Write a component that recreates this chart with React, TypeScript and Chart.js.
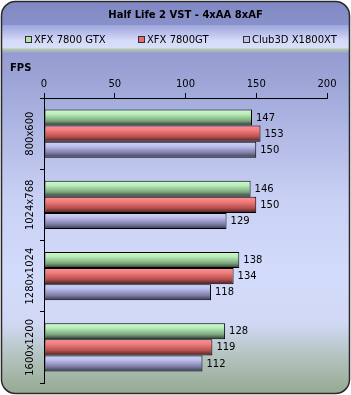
import React, { useEffect, useRef } from "react";
import { Chart, registerables } from "chart.js";

Chart.register(...registerables);

const categories = ["800x600", "1024x768", "1280x1024", "1600x1200"];
const seriesNames = ["XFX 7800 GTX", "XFX 7800GT", "Club3D X1800XT"];
const gtxValues = [147, 146, 138, 128];
const gtValues = [153, 150, 134, 119];
const x1800Values = [150, 129, 118, 112];
const xTicks = [0, 50, 100, 150, 200];
const chartTitle = "Half Life 2 VST - 4xAA 8xAF";
const axisTitle = "FPS";

const seriesGradients = [
  ["#d0fcd0", "#b8ecb8", "#7ca87c", "#2c382c"],
  ["#ff9494", "#f27c7c", "#b45050", "#4a1c1c"],
  ["#d4d4fc", "#bcbcec", "#7c7ca4", "#34344a"],
];
const legendFill = ["#b4e4ac", "#e46c6c", "#c4c4e4"];

const CAT_PCT = 0.68;
const FONT = "DejaVu Sans";

function barGradient(ctx: any) {
  const chart = ctx.chart;
  const ds = ctx.datasetIndex;
  const base = seriesGradients[ds] ? seriesGradients[ds][1] : "#ccc";
  if (ctx.type !== "data" || !chart.chartArea) return base;
  const ys = chart.scales.y;
  if (!ys) return base;
  const n = categories.length;
  const cat = (ys.bottom - ys.top) / n;
  const center = ys.getPixelForValue(ctx.dataIndex);
  const nb = chart.data.datasets.length;
  const bar = (cat * CAT_PCT) / nb;
  const top = center - (cat * CAT_PCT) / 2 + ds * bar;
  const g = chart.ctx.createLinearGradient(0, top, 0, top + bar);
  const s = seriesGradients[ds];
  g.addColorStop(0, s[0]);
  g.addColorStop(0.3, s[1]);
  g.addColorStop(0.7, s[2]);
  g.addColorStop(1, s[3]);
  return g;
}

const framePlugin = {
  id: "frame",
  beforeDraw(chart: any) {
    const c = chart.ctx;
    const W = chart.width;
    const H = chart.height;
    c.save();
    c.fillStyle = "#ffffff";
    c.fillRect(0, 0, W, H);
    const x0 = 1.5, y0 = 1.5, w = W - 3, h = H - 3, r = 14;
    c.beginPath();
    c.moveTo(x0 + r, y0);
    c.lineTo(x0 + w - r, y0);
    c.arcTo(x0 + w, y0, x0 + w, y0 + r, r);
    c.lineTo(x0 + w, y0 + h - r);
    c.arcTo(x0 + w, y0 + h, x0 + w - r, y0 + h, r);
    c.lineTo(x0 + r, y0 + h);
    c.arcTo(x0, y0 + h, x0, y0 + h - r, r);
    c.lineTo(x0, y0 + r);
    c.arcTo(x0, y0, x0 + r, y0, r);
    c.closePath();
    const bg = c.createLinearGradient(0, 0, 0, H);
    bg.addColorStop(0, "#8088c4");
    bg.addColorStop(0.25, "#a4acdc");
    bg.addColorStop(0.5, "#c8d0f4");
    bg.addColorStop(0.7, "#d4dcfc");
    bg.addColorStop(0.82, "#d0d8f4");
    bg.addColorStop(0.9, "#b4c4c0");
    bg.addColorStop(1, "#94a890");
    c.fillStyle = bg;
    c.fill();
    c.save();
    c.clip();
    // legend band
    const bandTop = 25, bandBot = 53;
    const lg = c.createLinearGradient(0, bandTop, 0, bandBot);
    lg.addColorStop(0, "#9ca4dc");
    lg.addColorStop(0.55, "#d4daf8");
    lg.addColorStop(0.8, "#d8e0f8");
    lg.addColorStop(0.88, "#b4c4a8");
    lg.addColorStop(1, "#98a0d4");
    c.fillStyle = lg;
    c.fillRect(0, bandTop, W, bandBot - bandTop);
    c.restore();
    c.lineWidth = 1.5;
    c.strokeStyle = "#2a2a2a";
    c.stroke();

    const area = chart.chartArea;
    c.fillStyle = "#000";
    c.textBaseline = "middle";
    c.textAlign = "center";
    c.font = `bold 10px "${FONT}"`;
    c.fillText(chartTitle, (area.left + area.right) / 2, 15);

    // legend
    const starts = [25, 138, 243];
    c.font = `10px "${FONT}"`;
    c.textAlign = "left";
    seriesNames.forEach((name, i) => {
      const bx = starts[i];
      c.fillStyle = legendFill[i];
      c.fillRect(bx + 0.5, 36.5, 6, 6);
      c.strokeStyle = "#303030";
      c.lineWidth = 1;
      c.strokeRect(bx + 0.5, 36.5, 6, 6);
      c.fillStyle = "#000";
      c.fillText(name, bx + 9, 40);
    });

    c.font = `bold 10px "${FONT}"`;
    c.fillText(axisTitle, 10, 68);
    c.restore();
  },
  afterDatasetsDraw(chart: any) {
    const c = chart.ctx;
    c.save();
    c.fillStyle = "#000";
    c.font = `10px "${FONT}"`;
    c.textBaseline = "middle";
    c.textAlign = "left";
    chart.data.datasets.forEach((ds: any, i: number) => {
      const meta = chart.getDatasetMeta(i);
      meta.data.forEach((el: any, j: number) => {
        c.fillText(String(ds.data[j]), el.x + 4, el.y + 0.5);
      });
    });
    const ys = chart.scales.y;
    c.textAlign = "center";
    categories.forEach((lab, i) => {
      const y = ys.getPixelForValue(i);
      c.save();
      c.translate(30, y);
      c.rotate(-Math.PI / 2);
      c.fillText(lab, 0, 0);
      c.restore();
    });
    c.restore();
  },
};

export default function App() {
  const ref = useRef<HTMLCanvasElement | null>(null);
  useEffect(() => {
    document.body.style.margin = "0";
    const canvas = ref.current;
    if (!canvas) return;
    const chart = new Chart(canvas, {
      type: "bar",
      data: {
        labels: categories,
        datasets: [gtxValues, gtValues, x1800Values].map((vals, i) => ({
          label: seriesNames[i],
          data: vals,
          backgroundColor: barGradient,
          borderColor: "#000",
          borderWidth: 1,
          borderSkipped: false,
          categoryPercentage: CAT_PCT,
          barPercentage: 1,
        })),
      },
      options: {
        indexAxis: "y",
        animation: false,
        responsive: false,
        devicePixelRatio: 1,
        layout: { padding: { left: 40, right: 24, top: 75, bottom: 12 } },
        plugins: {
          legend: { display: false },
          title: { display: false },
          tooltip: { enabled: false },
        },
        scales: {
          x: {
            position: "top",
            min: 0,
            max: 200,
            afterBuildTicks: (scale: any) => {
              scale.ticks = xTicks.map((v) => ({ value: v }));
            },
            ticks: {
              color: "#000",
              font: { family: FONT, size: 10 },
              padding: 3,
            },
            grid: {
              drawOnChartArea: false,
              drawTicks: true,
              tickLength: 5,
              color: "#000",
            },
            border: { color: "#000", width: 1 },
          },
          y: {
            ticks: { display: false },
            grid: {
              drawOnChartArea: false,
              tickLength: 4,
              color: "#000",
              offset: true,
            },
            border: { color: "#000", width: 1 },
          },
        },
      },
      plugins: [framePlugin],
    } as any);
    return () => chart.destroy();
  }, []);
  return <canvas ref={ref} width={351} height={395} style={{ display: "block" }} />;
}
